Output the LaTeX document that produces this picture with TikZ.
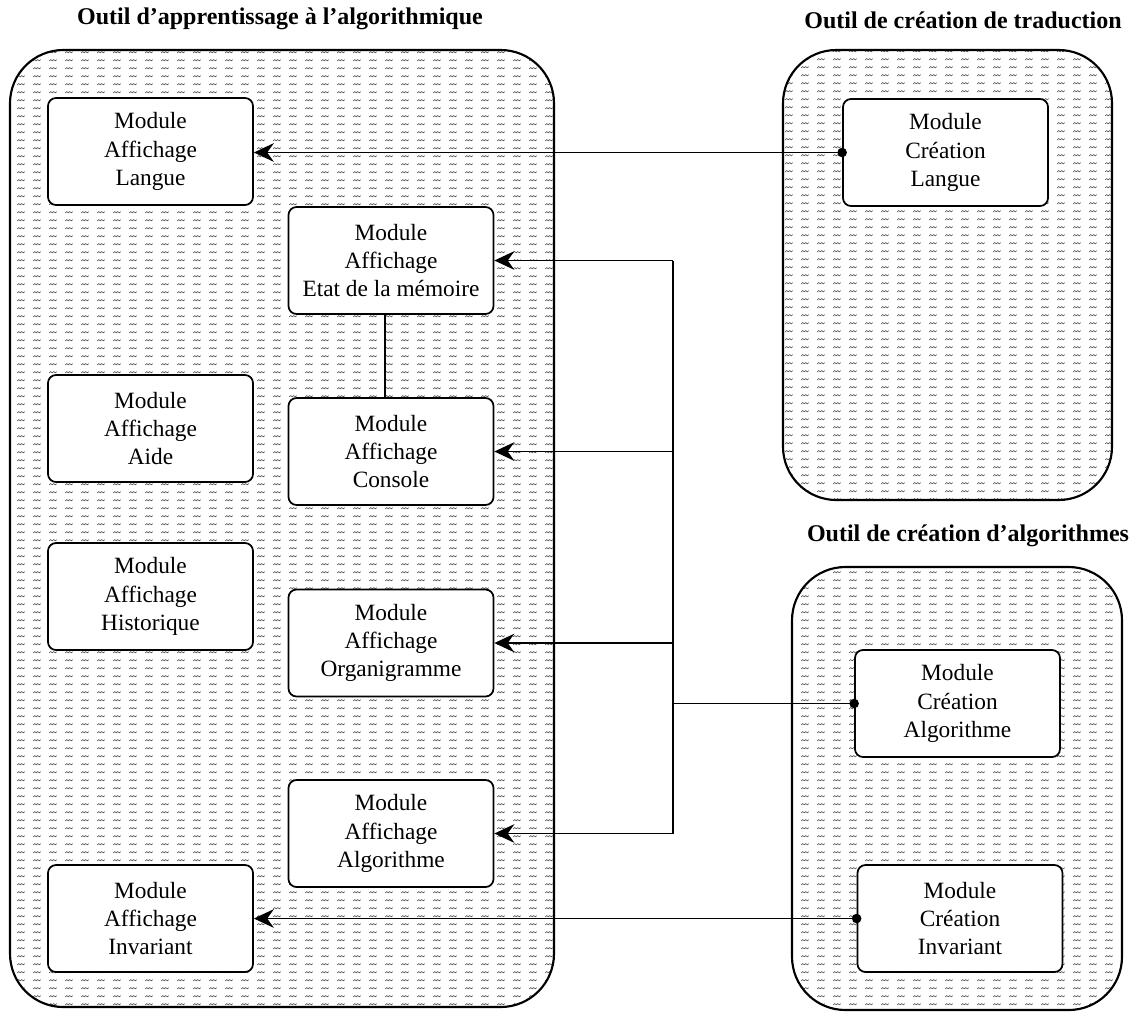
\documentclass[tikz,border=0pt]{standalone}
\usepackage{fontspec}
\setmainfont{Liberation Serif}
\usetikzlibrary{arrows.meta,patterns}
\pgfdeclarepatternformonly{wavy}{\pgfqpoint{0pt}{0pt}}{\pgfqpoint{12pt}{6.2pt}}{\pgfqpoint{12pt}{6.2pt}}{%
  \pgfsetlinewidth{0.5pt}%
  \pgfpathmoveto{\pgfqpoint{1pt}{2.6pt}}%
  \pgfpathlineto{\pgfqpoint{2.2pt}{3.6pt}}%
  \pgfpathlineto{\pgfqpoint{3.4pt}{2.6pt}}%
  \pgfpathlineto{\pgfqpoint{4.6pt}{3.6pt}}%
  \pgfpathlineto{\pgfqpoint{5.8pt}{2.6pt}}%
  \pgfpathlineto{\pgfqpoint{7pt}{3.6pt}}%
  \pgfusepath{stroke}%
}
\begin{document}
\begin{tikzpicture}[x=0.75pt,y=-0.75pt,
  container/.style={draw, line width=1.6pt, rounded corners=40pt, preaction={fill=white}, pattern=wavy, pattern color=black!65},
  modbox/.style={draw, line width=1.3pt, rounded corners=6pt, fill=white, align=center,
    inner sep=0pt, minimum width=153.75pt, minimum height=80.25pt,
    font=\fontsize{17.5}{21.3}\selectfont},
  title/.style={font=\fontsize{18}{21}\selectfont\bfseries, inner sep=0pt},
  conn/.style={line width=1.3pt},
  arr/.style={conn, -{Stealth[length=15pt,width=14pt,inset=5pt]}},
  dot/.style={fill=black}
]
\useasboundingbox (0,0) rectangle (1144,1015);

% containers
\draw[container] (10,50) rectangle (554,1007);
\draw[container] (783,50) rectangle (1112,500);
\draw[container] (792,567) rectangle (1122,1010);

% titles
\node[title] (t1) at (280,19) {Outil d’apprentissage à l’algorithmique};
\node[title] (t2) at (963,20) {Outil de création de traduction};
\node[title] (t3) at (968,536) {Outil de création d’algorithmes};

% modules
\node[modbox] (la) at (150.5,151.5) {Module\\Affichage\\Langue};
\node[modbox] (etat) at (391,260.5) {Module\\Affichage\\Etat de la mémoire};
\node[modbox] (aide) at (150.5,428.5) {Module\\Affichage\\Aide};
\node[modbox] (console) at (391,451.5) {Module\\Affichage\\Console};
\node[modbox] (hist) at (150.5,596.5) {Module\\Affichage\\Historique};
\node[modbox] (organ) at (391,643) {Module\\Affichage\\Organigramme};
\node[modbox] (algoL) at (391,833.5) {Module\\Affichage\\Algorithme};
\node[modbox] (inv) at (150.5,918.5) {Module\\Affichage\\Invariant};
\node[modbox] (cl) at (945.5,152.5) {Module\\Création\\Langue};
\node[modbox] (ca) at (957.5,703.5) {Module\\Création\\Algorithme};
\node[modbox] (ci) at (960,918.5) {Module\\Création\\Invariant};

% connectors
\coordinate (bx) at (673,0);
\draw[arr] (cl.west) -- (cl.west -| la.east);
\fill[dot] (cl.west) circle (3.6pt);

\draw[conn] ([xshift=-4.5pt]etat.south) -- ([xshift=-4.5pt]console.north);

\draw[conn] (bx |- etat.east) -- (bx |- algoL.east);
\draw[arr] (bx |- etat.east) -- (etat.east);
\draw[arr] (bx |- console.east) -- (console.east);
\draw[arr] (bx |- organ.east) -- (organ.east);
\draw[arr] (bx |- algoL.east) -- (algoL.east);
\draw[conn] (ca.west) -- (bx |- ca.west);
\fill[dot] (ca.west) circle (3.6pt);

\draw[arr] (ci.west) -- (ci.west -| inv.east);
\fill[dot] (ci.west) circle (3.6pt);
\end{tikzpicture}
\end{document}
